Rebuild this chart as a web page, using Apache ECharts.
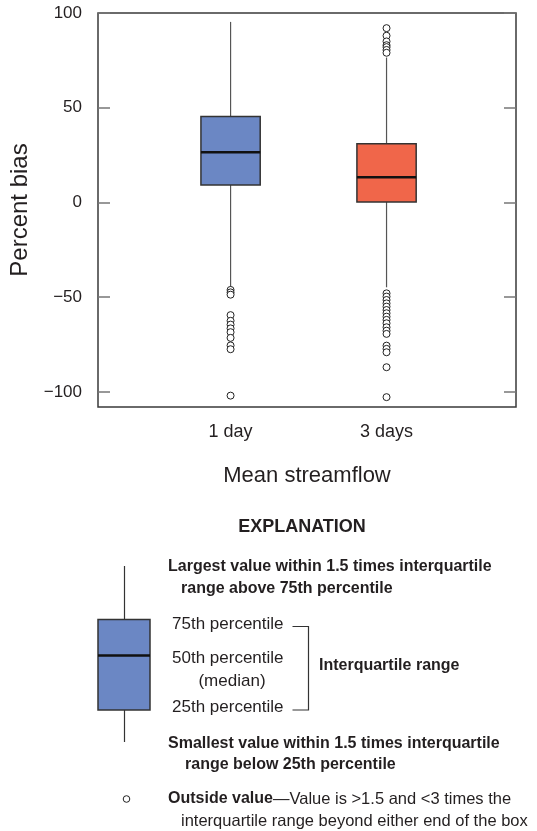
<!DOCTYPE html>
<html><head><meta charset="utf-8">
<script src="https://cdn.jsdelivr.net/npm/echarts@6/dist/echarts.min.js"></script>
<style>html,body{margin:0;padding:0;background:#fff}#c{width:537px;height:831px}</style>
</head><body><div id="c"></div>
<script>
// ---- data ----
const categories = ['1 day', '3 days'];
const whiskerLow = [-45.1, -44.8];
const q1 = [9.2, 0.2];
const median = [26.5, 13.3];
const q3 = [45.4, 31.0];
const whiskerHigh = [95.3, 76.5];
const outliers1Day = [-46.2, -47.5, -48.7, -59.5, -62.5, -64.5, -66.5, -68.5, -71.5, -75.5, -77.5, -102];
const outliers3Days = [92, 88, 85, 83, 82, 80.5, 79,
  -48.0, -49.7, -51.5, -53.3, -55.0, -56.8, -58.5, -60.3, -62.0, -63.8, -65.9, -67.7, -69.4,
  -75.6, -77.3, -79.1, -87.0, -102.8];
const yTicks = [-100, -50, 0, 50, 100];

const FONT = "'Liberation Sans', Arial, sans-serif";
const TXT = '#231f20';
const boxColors = ['#6b87c4', '#f0664a'];

const boxData = categories.map((c, i) => [i + 1, whiskerLow[i], q1[i], median[i], q3[i], whiskerHigh[i], i]);
const outData = [];
outliers1Day.forEach(v => outData.push([1, v]));
outliers3Days.forEach(v => outData.push([2, v]));

const chart = echarts.init(document.getElementById('c'), null, {renderer: 'canvas'});

function renderBox(params, api) {
  const x = api.value(0);
  const lo = api.coord([x, api.value(1)]);
  const b1 = api.coord([x, api.value(2)]);
  const md = api.coord([x, api.value(3)]);
  const b3 = api.coord([x, api.value(4)]);
  const hi = api.coord([x, api.value(5)]);
  const hw = api.size([1, 0])[0] * 0.19;
  const col = boxColors[api.value(6)];
  const cx = lo[0];
  return {
    type: 'group',
    children: [
      {type: 'line', shape: {x1: cx, y1: hi[1], x2: cx, y2: b3[1]}, style: {stroke: '#555', lineWidth: 1.2}},
      {type: 'line', shape: {x1: cx, y1: b1[1], x2: cx, y2: lo[1]}, style: {stroke: '#555', lineWidth: 1.2}},
      {type: 'rect', shape: {x: cx - hw, y: b3[1], width: hw * 2, height: b1[1] - b3[1]},
        style: {fill: col, stroke: '#333', lineWidth: 1.5}},
      {type: 'line', shape: {x1: cx - hw, y1: md[1], x2: cx + hw, y2: md[1]}, style: {stroke: '#111', lineWidth: 2.5}}
    ]
  };
}

const yCommon = {
  type: 'value', min: -108, max: 100,
  splitLine: {show: false},
  axisLine: {show: false},
  axisTick: {show: true, inside: true, length: 12, customValues: yTicks, lineStyle: {color: '#777', width: 1.5}}
};

const gx = 97, gl = 13;
const textStyleB = (t, x, y, size, extra) => Object.assign({
  type: 'text', x: x, y: y,
  style: {text: t, fill: TXT, font: 'bold ' + (size || 16) + 'px ' + FONT, textVerticalAlign: 'middle', textAlign: 'left'}
}, extra || {});
const textStyleR = (t, x, y, size) => ({
  type: 'text', x: x, y: y,
  style: {text: t, fill: TXT, font: (size || 17) + 'px ' + FONT, textVerticalAlign: 'middle', textAlign: 'left'}
});

chart.setOption({
  animation: false,
  backgroundColor: '#fff',
  grid: {left: 97, right: 21, top: 13, bottom: 424, show: true, borderColor: '#3a3a3a', borderWidth: 1.5, backgroundColor: 'transparent'},
  xAxis: {
    type: 'value', min: 0.15, max: 2.83,
    splitLine: {show: false}, axisLine: {show: false}, axisTick: {show: false},
    axisLabel: {customValues: [1, 2], formatter: v => categories[Math.round(v) - 1], fontSize: 18, fontFamily: FONT, color: TXT, margin: 16},
    name: 'Mean streamflow', nameLocation: 'middle', nameGap: 58,
    nameTextStyle: {fontSize: 22, fontFamily: FONT, color: TXT}
  },
  yAxis: [
    Object.assign({}, yCommon, {
      position: 'left',
      axisLabel: {customValues: yTicks, fontSize: 17, fontFamily: FONT, color: TXT, margin: 16,
        formatter: v => (v < 0 ? '\u2212' + Math.abs(v) : '' + v)},
      name: 'Percent bias', nameLocation: 'middle', nameGap: 66, nameRotate: 90,
      nameTextStyle: {fontSize: 24, fontFamily: FONT, color: TXT}
    }),
    Object.assign({}, yCommon, {position: 'right', axisLabel: {show: false}})
  ],
  series: [
    {type: 'custom', renderItem: renderBox, data: boxData, encode: {x: 0, y: [1, 2, 3, 4, 5]}, z: 2},
    {type: 'scatter', data: outData, symbol: 'circle', symbolSize: 7,
      itemStyle: {color: '#fff', borderColor: '#222', borderWidth: 1, opacity: 1}, z: 3}
  ],
  graphic: [
    {type: 'text', x: 302, y: 527, style: {text: 'EXPLANATION', fill: TXT, font: 'bold 18px ' + FONT, textAlign: 'center', textVerticalAlign: 'middle'}},
    {type: 'line', shape: {x1: 124.5, y1: 566, x2: 124.5, y2: 619.5}, style: {stroke: '#333', lineWidth: 1.2}},
    {type: 'line', shape: {x1: 124.5, y1: 710, x2: 124.5, y2: 742}, style: {stroke: '#333', lineWidth: 1.2}},
    {type: 'rect', shape: {x: 98, y: 619.5, width: 52, height: 90.5}, style: {fill: boxColors[0], stroke: '#333', lineWidth: 1.5}},
    {type: 'line', shape: {x1: 98, y1: 655.5, x2: 150, y2: 655.5}, style: {stroke: '#111', lineWidth: 2.5}},
    textStyleB('Largest value within 1.5 times interquartile', 168, 567),
    textStyleB('range above 75th percentile', 181, 588.5),
    textStyleR('75th percentile', 172, 624),
    textStyleR('50th percentile', 172, 658),
    {type: 'text', x: 232, y: 681, style: {text: '(median)', fill: TXT, font: '17px ' + FONT, textAlign: 'center', textVerticalAlign: 'middle'}},
    textStyleR('25th percentile', 172, 707),
    {type: 'polyline', shape: {points: [[292.5, 626.5], [308.5, 626.5], [308.5, 710], [292.5, 710]]}, style: {stroke: '#333', lineWidth: 1.2, fill: null}},
    textStyleB('Interquartile range', 319, 666),
    textStyleB('Smallest value within 1.5 times interquartile', 168, 744),
    textStyleB('range below 25th percentile', 185, 765),
    {type: 'circle', shape: {cx: 126.5, cy: 799, r: 3.3}, style: {fill: '#fff', stroke: '#222', lineWidth: 1}},
    {type: 'text', x: 168, y: 799, style: {
      text: '{b|Outside value}{r|\u2014Value is >1.5 and <3 times the}',
      textVerticalAlign: 'middle', textAlign: 'left',
      rich: {
        b: {fontWeight: 'bold', fontSize: 16, fontFamily: FONT, fill: TXT, color: TXT},
        r: {fontSize: 16.5, fontFamily: FONT, fill: TXT, color: TXT}
      }
    }},
    textStyleR('interquartile range beyond either end of the box', 181, 821, 16.5)
  ]
});
</script></body></html>
